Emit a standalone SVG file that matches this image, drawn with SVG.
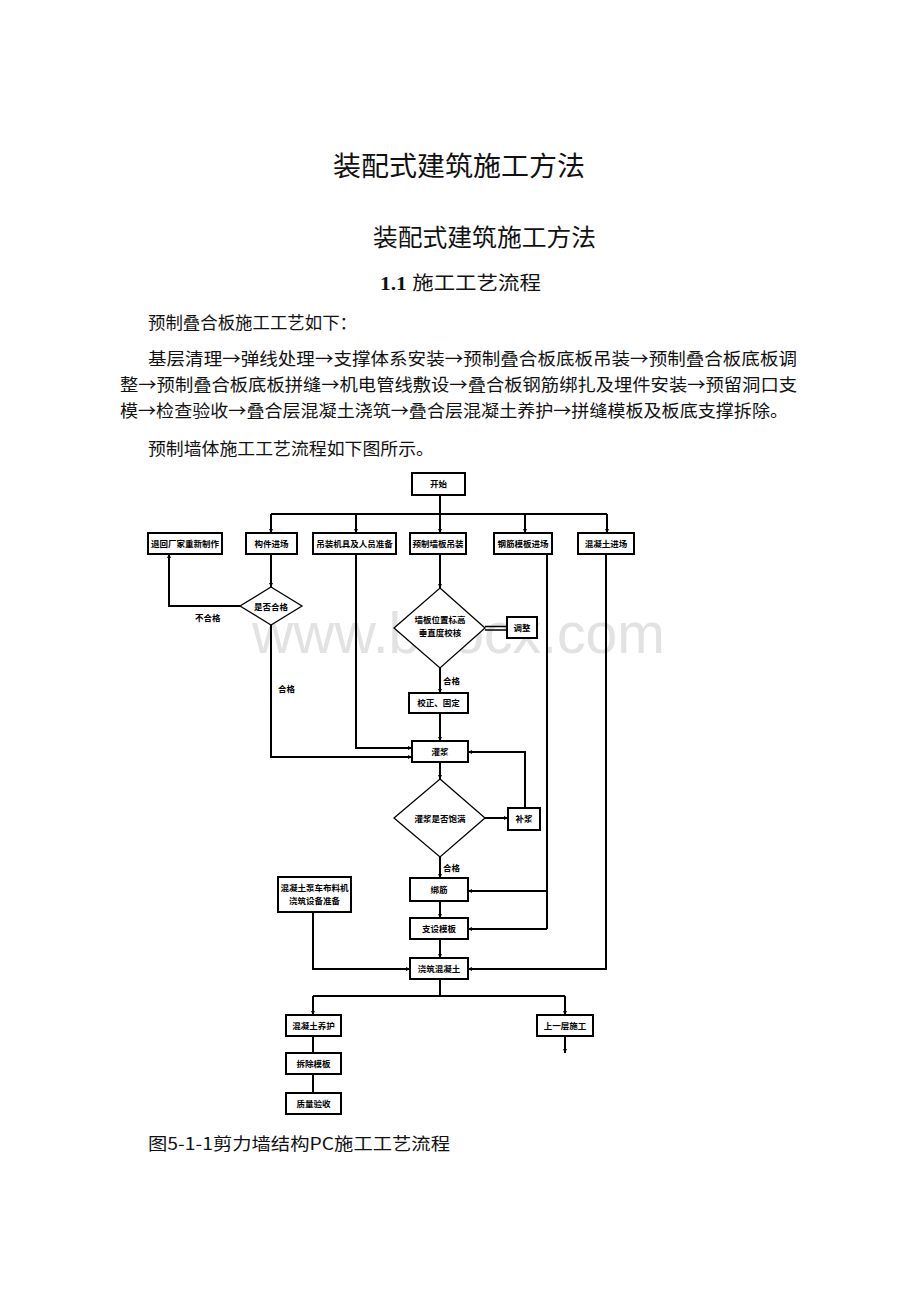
<svg xmlns="http://www.w3.org/2000/svg" width="920" height="1302" viewBox="0 0 920 1302">
<defs>
<style>
.doc{font-family:"Noto Sans CJK SC","Liberation Serif",serif;fill:#111}
.box{fill:#fff;stroke:#000;stroke-width:2}
.dia{fill:#fff;stroke:#000;stroke-width:1.3}
.ln{fill:none;stroke:#000;stroke-width:2}
.t{font-family:"Noto Sans CJK SC","Liberation Sans",sans-serif;font-size:8.5px;font-weight:bold;fill:#000;text-anchor:middle}
.lb{font-family:"Noto Sans CJK SC","Liberation Sans",sans-serif;font-size:8.5px;font-weight:bold;fill:#000}
</style>
<marker id="ar" viewBox="0 0 6 6" refX="6" refY="3" markerWidth="4" markerHeight="4" markerUnits="userSpaceOnUse" orient="auto"><path d="M0,0 L6,3 L0,6 z" fill="#000"/></marker>
</defs>
<rect width="920" height="1302" fill="#fff"/>
<text x="252" y="653" font-family="Liberation Sans, Arial, sans-serif" font-size="57" fill="#e2e2e2" textLength="413" lengthAdjust="spacingAndGlyphs">www.bdocx.com</text>
<g id="header">
<text class="doc" x="333" y="176" font-size="27" textLength="252" lengthAdjust="spacingAndGlyphs">装配式建筑施工方法</text>
<text class="doc" x="373" y="246" font-size="24" textLength="223" lengthAdjust="spacingAndGlyphs">装配式建筑施工方法</text>
<text class="doc" x="380" y="290" font-size="19" textLength="161" lengthAdjust="spacingAndGlyphs"><tspan font-family="Liberation Serif,serif" font-weight="bold">1.1 </tspan>施工工艺流程</text>
<text class="doc" x="148" y="329" font-size="17" textLength="209" lengthAdjust="spacingAndGlyphs">预制叠合板施工工艺如下：</text>
<text class="doc" x="148" y="365" font-size="17" textLength="649" lengthAdjust="spacingAndGlyphs">基层清理→弹线处理→支撑体系安装→预制叠合板底板吊装→预制叠合板底板调</text>
<text class="doc" x="120" y="391" font-size="17" textLength="677" lengthAdjust="spacingAndGlyphs">整→预制叠合板底板拼缝→机电管线敷设→叠合板钢筋绑扎及埋件安装→预留洞口支</text>
<text class="doc" x="120" y="417" font-size="17" textLength="668" lengthAdjust="spacingAndGlyphs">模→检查验收→叠合层混凝土浇筑→叠合层混凝土养护→拼缝模板及板底支撑拆除。</text>
<text class="doc" x="148" y="455" font-size="17" textLength="286" lengthAdjust="spacingAndGlyphs">预制墙体施工工艺流程如下图所示。</text>
<text class="doc" x="148" y="1150" font-size="17" textLength="302" lengthAdjust="spacingAndGlyphs">图5-1-1剪力墙结构PC施工工艺流程</text>
</g>
<g id="connectors">
<path class="ln" d="M440,496 V514 M271,514 H607"/>
<path class="ln" marker-end="url(#ar)" d="M271,514 V533"/>
<path class="ln" marker-end="url(#ar)" d="M356,514 V533"/>
<path class="ln" marker-end="url(#ar)" d="M440,514 V533"/>
<path class="ln" marker-end="url(#ar)" d="M525,514 V533"/>
<path class="ln" marker-end="url(#ar)" d="M607,514 V533"/>
<path class="ln" marker-end="url(#ar)" d="M240,606 H169 V554"/>
<path class="ln" marker-end="url(#ar)" d="M271,554 V587"/>
<path class="ln" marker-end="url(#ar)" d="M271,625 V757 H412"/>
<path class="ln" marker-end="url(#ar)" d="M356,554 V748 H412"/>
<path class="ln" marker-end="url(#ar)" d="M440,554 V588"/>
<path fill="none" stroke="#000" stroke-width="1.3" d="M485,626.5 H507 M485,630 H507"/>
<path class="ln" marker-end="url(#ar)" d="M440,668 V693"/>
<path class="ln" marker-end="url(#ar)" d="M440,713 V741"/>
<path class="ln" marker-end="url(#ar)" d="M440,762 V779"/>
<path class="ln" marker-end="url(#ar)" d="M485,818 H508"/>
<path class="ln" marker-end="url(#ar)" d="M525,808 V752 H468"/>
<path class="ln" marker-end="url(#ar)" d="M440,857 V878"/>
<path class="ln" d="M547,554 V929"/>
<path class="ln" marker-end="url(#ar)" d="M547,891 H468"/>
<path class="ln" marker-end="url(#ar)" d="M547,929 H468"/>
<path class="ln" marker-end="url(#ar)" d="M440,901 V918"/>
<path class="ln" marker-end="url(#ar)" d="M440,939 V958"/>
<path class="ln" marker-end="url(#ar)" d="M606,554 V969 H468"/>
<path class="ln" marker-end="url(#ar)" d="M313,912 V969 H410"/>
<path class="ln" d="M440,979 V996 M313,996 H565"/>
<path class="ln" marker-end="url(#ar)" d="M313,996 V1015"/>
<path class="ln" marker-end="url(#ar)" d="M565,996 V1015"/>
<path class="ln" d="M313,1036 V1053 M313,1074 V1093"/>
<path class="ln" marker-end="url(#ar)" d="M565,1036 V1053"/>
<text class="lb" x="195" y="621">不合格</text>
<text class="lb" x="278" y="692">合格</text>
<text class="lb" x="443" y="684">合格</text>
<text class="lb" x="443" y="871">合格</text>
</g>
<g id="n-start"><rect class="box" x="412" y="473" width="53" height="22"/><text class="t" x="438.5" y="487">开始</text></g>
<g id="n-a"><rect class="box" x="148" y="533" width="74" height="21"/><text class="t" x="185" y="546.5">退回厂家重新制作</text></g>
<g id="n-b"><rect class="box" x="246" y="533" width="51" height="21"/><text class="t" x="271.5" y="546.5">构件进场</text></g>
<g id="n-c"><rect class="box" x="313" y="533" width="83" height="21"/><text class="t" x="354.5" y="546.5">吊装机具及人员准备</text></g>
<g id="n-d"><rect class="box" x="410" y="533" width="56" height="21"/><text class="t" x="438" y="546.5">预制墙板吊装</text></g>
<g id="n-e"><rect class="box" x="494" y="533" width="58" height="21"/><text class="t" x="523" y="546.5">钢筋模板进场</text></g>
<g id="n-f"><rect class="box" x="578" y="533" width="56" height="21"/><text class="t" x="606" y="546.5">混凝土进场</text></g>
<g id="n-d1"><polygon class="dia" points="271,587 302,606 271,625 240,606"/><text class="t" x="271" y="609.5">是否合格</text></g>
<g id="n-d2"><polygon class="dia" points="440,588 485,628 440,668 394,628"/><text class="t" x="440" y="623">墙板位置标高</text><text class="t" x="440" y="636">垂直度校核</text></g>
<g id="n-adj"><rect class="box" x="507" y="617" width="30" height="21"/><text class="t" x="522" y="630.5">调整</text></g>
<g id="n-fix"><rect class="box" x="409" y="693" width="59" height="20"/><text class="t" x="438.5" y="706">校正、固定</text></g>
<g id="n-grout"><rect class="box" x="412" y="741" width="56" height="21"/><text class="t" x="440" y="754.5">灌浆</text></g>
<g id="n-d3"><polygon class="dia" points="440,779 485,818 440,857 394,818"/><text class="t" x="440" y="821.5">灌浆是否饱满</text></g>
<g id="n-fix2"><rect class="box" x="508" y="808" width="32" height="22"/><text class="t" x="524" y="822">补浆</text></g>
<g id="n-x1"><rect class="box" x="410" y="878" width="58" height="23"/><text class="t" x="439" y="892.5">绑筋</text></g>
<g id="n-x2"><rect class="box" x="410" y="918" width="58" height="21"/><text class="t" x="439" y="931.5">支设模板</text></g>
<g id="n-pour"><rect class="box" x="410" y="958" width="58" height="21"/><text class="t" x="439" y="971.5">浇筑混凝土</text></g>
<g id="n-left"><rect class="box" x="278" y="877" width="73" height="35"/><text class="t" x="314.5" y="891">混凝土泵车布料机</text><text class="t" x="314.5" y="904">浇筑设备准备</text></g>
<g id="n-l1"><rect class="box" x="286" y="1015" width="55" height="21"/><text class="t" x="313.5" y="1028.5">混凝土养护</text></g>
<g id="n-l2"><rect class="box" x="286" y="1053" width="55" height="21"/><text class="t" x="313.5" y="1066.5">拆除模板</text></g>
<g id="n-l3"><rect class="box" x="286" y="1093" width="55" height="21"/><text class="t" x="313.5" y="1106.5">质量验收</text></g>
<g id="n-r"><rect class="box" x="537" y="1015" width="56" height="21"/><text class="t" x="565" y="1028.5">上一层施工</text></g>
</svg>
